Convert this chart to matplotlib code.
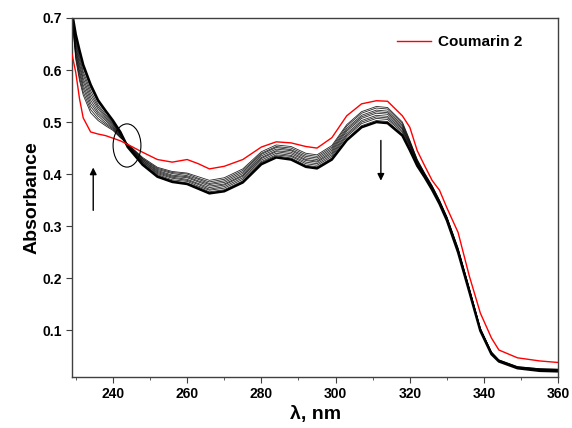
import numpy as np
import matplotlib
matplotlib.use('Agg')
import matplotlib.pyplot as plt
from matplotlib.patches import Ellipse

plt.rcParams['font.family'] = ['Liberation Sans', 'DejaVu Sans']
plt.rcParams['font.weight'] = 'bold'

# wavelength grid (nm)
wavelength = [229, 230, 231, 232, 234, 236, 238, 240, 242, 244, 248, 252, 256, 260,
              263, 266, 270, 275, 280, 284, 288, 292, 295, 299, 303, 307, 311, 314,
              318, 320, 322, 324, 326, 328, 330, 333, 336, 339, 342, 344, 349, 355, 360]

# Coumarin 2 alone (red)
coumarin2 = [0.630, 0.595, 0.545, 0.508, 0.481, 0.477, 0.474, 0.469, 0.464, 0.457,
             0.442, 0.428, 0.423, 0.428, 0.420, 0.410, 0.415, 0.428, 0.452, 0.462,
             0.460, 0.453, 0.450, 0.470, 0.512, 0.535, 0.541, 0.540, 0.512, 0.490,
             0.445, 0.416, 0.388, 0.369, 0.335, 0.288, 0.205, 0.133, 0.085, 0.062,
             0.047, 0.041, 0.038]

# titration spectra (black), one row per wavelength, one column per spectrum
titration = [
    [.700, .701, .702, .703, .704, .706, .707, .708, .709, .710],
    [.620, .625, .631, .636, .641, .647, .652, .657, .663, .668],
    [.580, .586, .593, .599, .606, .612, .619, .625, .632, .638],
    [.552, .558, .565, .571, .578, .584, .591, .597, .604, .610],
    [.518, .524, .530, .536, .542, .548, .554, .560, .566, .572],
    [.503, .507, .512, .516, .520, .525, .529, .533, .538, .542],
    [.493, .496, .499, .503, .506, .509, .512, .515, .519, .522],
    [.484, .486, .488, .490, .492, .495, .497, .499, .501, .503],
    [.470, .471, .472, .474, .475, .476, .477, .478, .480, .481],
    [.458, .457, .457, .456, .455, .455, .454, .453, .453, .452],
    [.432, .430, .429, .427, .426, .424, .423, .421, .420, .418],
    [.413, .411, .409, .407, .405, .403, .401, .399, .397, .395],
    [.405, .403, .401, .398, .396, .394, .392, .389, .387, .385],
    [.402, .400, .397, .395, .393, .390, .388, .386, .383, .381],
    [.395, .392, .390, .387, .385, .382, .380, .377, .375, .372],
    [.388, .385, .382, .380, .377, .374, .371, .369, .366, .363],
    [.393, .390, .387, .384, .381, .379, .376, .373, .370, .367],
    [.410, .407, .404, .401, .398, .396, .393, .390, .387, .384],
    [.443, .440, .438, .435, .432, .430, .427, .424, .422, .419],
    [.456, .453, .451, .448, .445, .443, .440, .437, .435, .432],
    [.453, .450, .447, .445, .442, .439, .436, .434, .431, .428],
    [.440, .437, .434, .431, .428, .426, .423, .420, .417, .414],
    [.437, .434, .431, .428, .425, .423, .420, .417, .414, .411],
    [.455, .452, .449, .446, .443, .440, .437, .434, .431, .428],
    [.495, .492, .488, .485, .482, .478, .475, .472, .468, .465],
    [.520, .517, .513, .510, .507, .503, .500, .497, .493, .490],
    [.530, .527, .523, .520, .517, .513, .510, .507, .503, .500],
    [.528, .525, .521, .518, .515, .511, .508, .505, .501, .498],
    [.500, .497, .494, .491, .488, .486, .483, .480, .477, .474],
    [.465, .463, .461, .459, .457, .455, .453, .450, .448, .446],
    [.428, .427, .425, .424, .423, .421, .420, .419, .417, .416],
    [.402, .401, .400, .399, .398, .398, .397, .396, .395, .394],
    [.378, .377, .376, .375, .374, .374, .373, .372, .371, .370],
    [.350, .349, .348, .348, .347, .346, .345, .345, .344, .343],
    [.318, .317, .316, .316, .315, .314, .313, .313, .312, .311],
    [.258, .257, .256, .255, .254, .254, .253, .252, .251, .250],
    [.182, .181, .180, .180, .179, .178, .177, .177, .176, .175],
    [.104, .103, .103, .102, .102, .101, .101, .100, .100, .099],
    [.058, .058, .057, .057, .056, .056, .056, .055, .055, .054],
    [.043, .043, .042, .042, .042, .041, .041, .041, .040, .040],
    [.030, .030, .029, .029, .029, .028, .028, .028, .027, .027],
    [.026, .026, .025, .025, .024, .024, .024, .023, .023, .022],
    [.025, .025, .024, .024, .023, .023, .023, .022, .022, .021],
]

x_ticks = [240, 260, 280, 300, 320, 340, 360]
y_ticks = [0.1, 0.2, 0.3, 0.4, 0.5, 0.6, 0.7]

fig = plt.figure(figsize=(5.72, 4.28), dpi=100)
ax = fig.add_axes([0.126, 0.119, 0.850, 0.839])

spectra = np.array(titration).T
for i, spec in enumerate(spectra):
    last = (i == len(spectra) - 1)
    ax.plot(wavelength, spec, color='black', lw=1.8 if last else 0.6,
            alpha=1.0 if last else 0.85, zorder=2)

ax.plot(wavelength, coumarin2, color='red', lw=1.0, label='Coumarin 2', zorder=3)

# isosbestic point marker
ax.add_patch(Ellipse((243.8, 0.455), 7.5, 0.083, fill=False,
                     edgecolor='black', lw=0.8, zorder=4))

# trend arrows
arrow = dict(arrowstyle='-|>', color='black', lw=1.0, mutation_scale=10)
ax.annotate('', xy=(234.7, 0.418), xytext=(234.7, 0.325), arrowprops=arrow)
ax.annotate('', xy=(312.2, 0.382), xytext=(312.2, 0.470), arrowprops=arrow)

ax.set_xlim(229, 360)
ax.set_ylim(0.01, 0.7)
ax.set_xticks(x_ticks)
ax.set_xticks(np.arange(230, 361, 10), minor=True)
ax.set_yticks(y_ticks)
ax.set_yticklabels([f'{v:.1f}' for v in y_ticks])
ax.tick_params(axis='both', which='major', direction='out', length=4,
               labelsize=10, color='#404040')
ax.tick_params(axis='x', which='minor', direction='out', length=2.5, color='#404040')
for s in ax.spines.values():
    s.set_color('#404040')
    s.set_linewidth(1.0)

ax.set_xlabel('λ, nm', fontsize=14, fontweight='bold', labelpad=3)
ax.set_ylabel('Absorbance', fontsize=14, fontweight='bold', labelpad=1)

ax.legend(loc='upper right', bbox_to_anchor=(0.955, 0.99), frameon=False,
          handlelength=2.2, handletextpad=0.5, prop={'weight': 'bold', 'size': 11})

fig.savefig('out.png', dpi=100)
